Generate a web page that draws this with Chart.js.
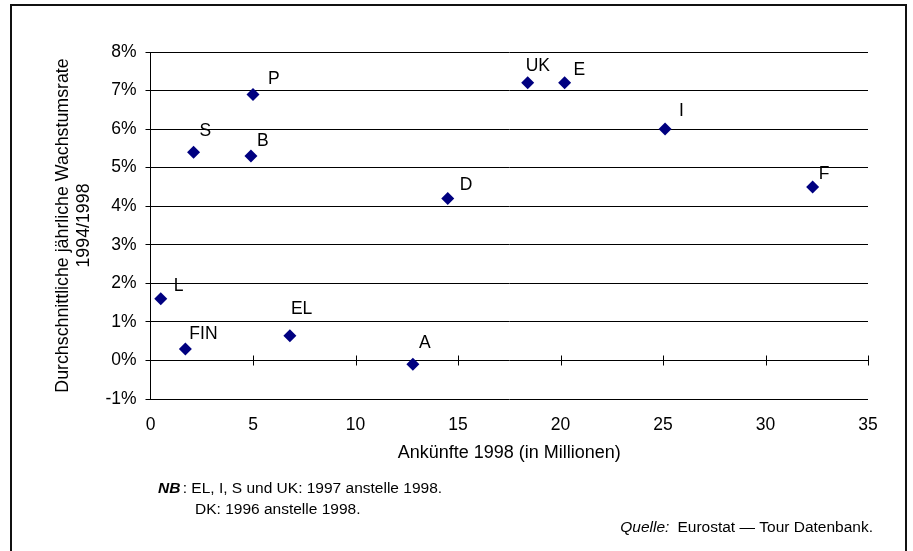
<!DOCTYPE html>
<html lang="de">
<head>
<meta charset="utf-8">
<title>Ankünfte 1998 und Wachstumsrate 1994/1998</title>
<script src="https://cdn.jsdelivr.net/npm/chart.js@4/dist/chart.umd.min.js"></script>
<style>
  html, body { margin: 0; padding: 0; background: #fff; }
  canvas { display: block; }
</style>
</head>
<body>
<canvas id="chart" width="913" height="551"></canvas>
<script>
// Länder, Ankünfte 1998 (Mio.) und durchschnittliche jährliche Wachstumsrate 1994/1998 (%)
const countries = ['L', 'FIN', 'S', 'B', 'P', 'EL', 'A', 'D', 'UK', 'E', 'I', 'F'];
const arrivals  = [0.5, 1.7, 2.1, 4.9, 5.0, 6.8, 12.8, 14.5, 18.4, 20.2, 25.1, 32.3];
const growth    = [1.6, 0.3, 5.4, 5.3, 6.9, 0.64, -0.1, 4.2, 7.2, 7.2, 6.0, 4.5];

const xTitle = 'Ankünfte 1998 (in Millionen)';
const yTitle = ['Durchschnittliche jährliche Wachstumsrate', '1994/1998'];
const noteLines = [' : EL, I, S und UK: 1997 anstelle 1998.', 'DK: 1996 anstelle 1998.'];
const sourceLabel = 'Quelle:';
const sourceText = 'Eurostat — Tour Datenbank.';

const FONT = "'Liberation Sans', Arial, sans-serif";
Chart.defaults.font.family = FONT;
Chart.defaults.color = '#000';

// Label placement next to each marker (left edge / vertical middle, in px from the point)
const labelOffsets = {
  L: [13, -13], FIN: [4, -15], S: [6, -21], B: [6, -15], P: [15, -15], EL: [1, -27],
  A: [6, -21], D: [12, -13], UK: [-2, -17], E: [9, -13], I: [14, -18], F: [6, -13]
};

const decorations = {
  id: 'decorations',
  afterDraw(chart) {
    const { ctx, scales: { x, y } } = chart;
    ctx.save();

    // cross tick marks on the 0 % line
    const y0 = Math.round(y.getPixelForValue(0)) + 0.5;
    ctx.strokeStyle = '#000';
    ctx.lineWidth = 1;
    x.ticks.forEach(t => {
      if (t.value === 0) return;
      const px = Math.round(x.getPixelForValue(t.value)) + 0.5;
      ctx.beginPath();
      ctx.moveTo(px, y0 - 5);
      ctx.lineTo(px, y0 + 5);
      ctx.stroke();
    });

    // country labels
    const meta = chart.getDatasetMeta(0);
    ctx.font = '17.5px ' + FONT;
    ctx.fillStyle = '#000';
    ctx.textAlign = 'left';
    ctx.textBaseline = 'middle';
    meta.data.forEach((pt, i) => {
      const name = countries[i];
      const [dx, dy] = labelOffsets[name];
      ctx.fillText(name, pt.x + dx, pt.y + dy);
    });

    // footnotes
    ctx.font = 'italic bold 15.5px ' + FONT;
    ctx.fillText('NB', 158, 489);
    const nbW = ctx.measureText('NB').width;
    ctx.font = '15.5px ' + FONT;
    ctx.fillText(noteLines[0], 158 + nbW - 2, 489);
    ctx.fillText(noteLines[1], 195, 510);

    ctx.textAlign = 'right';
    ctx.fillText(sourceText, 873, 528);
    const srcW = ctx.measureText(sourceText).width;
    ctx.font = 'italic 15.5px ' + FONT;
    ctx.fillText(sourceLabel, 873 - srcW - 8, 528);

    // outer frame (open at the bottom edge of the canvas)
    ctx.strokeStyle = '#111';
    ctx.lineWidth = 2;
    ctx.strokeRect(11, 5, 895, 560);
    ctx.restore();
  }
};

new Chart(document.getElementById('chart'), {
  type: 'scatter',
  data: {
    datasets: [{
      data: arrivals.map((v, i) => ({ x: v, y: growth[i] })),
      pointStyle: 'rectRot',
      pointRadius: 6.5,
      pointHoverRadius: 6.5,
      backgroundColor: '#000080',
      borderColor: '#000080',
      borderWidth: 0
    }]
  },
  options: {
    responsive: false,
    animation: false,
    events: [],
    layout: { padding: { left: 0, top: 52, right: 45, bottom: 0 } },
    plugins: { legend: { display: false }, tooltip: { enabled: false } },
    scales: {
      x: {
        type: 'linear',
        min: 0, max: 35,
        ticks: { stepSize: 5, padding: 16, font: { size: 17.5 } },
        grid: { display: false, drawTicks: false },
        border: { display: false },
        title: {
          display: true, text: xTitle, font: { size: 18 },
          padding: { top: 0, bottom: 87 }
        },
        afterFit(scale) { scale.height = 152; }
      },
      y: {
        type: 'linear',
        min: -1, max: 8,
        ticks: { stepSize: 1, padding: 9, font: { size: 17.5 }, callback: v => v + '%' },
        grid: { color: '#000', lineWidth: 1, tickLength: 5, drawTicks: true },
        border: { display: true, color: '#000', width: 1 },
        title: {
          display: true, text: yTitle, font: { size: 17.8 },
          padding: { top: 52, bottom: 0 }
        },
        afterFit(scale) { scale.width = 150.5; }
      }
    }
  },
  plugins: [decorations]
});
</script>
</body>
</html>
